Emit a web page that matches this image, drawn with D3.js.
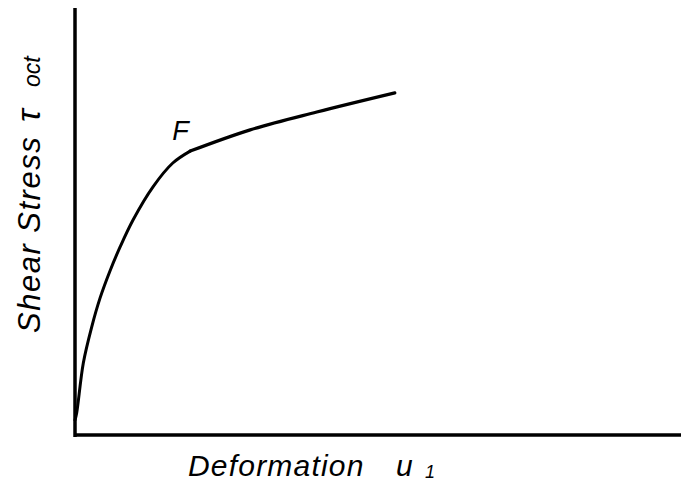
<!DOCTYPE html>
<html>
<head>
<meta charset="utf-8">
<script src="https://cdn.jsdelivr.net/npm/d3@7"></script>
<style>
  body { margin: 0; background: #fff; }
  text { font-family: "Liberation Sans", Arial, sans-serif; font-style: italic; fill: #000; }
</style>
</head>
<body>
<div id="chart"></div>
<script>
// chart size
var width = 681, height = 491;

// stress-deformation curve (arbitrary units)
// rising part, up to the yield point F
var deformElastic = [0, 0.28, 1.38, 2.78, 4.17, 5.83, 7.5, 9.67, 13.0, 16.3, 19.2];
var stressElastic = [3.5, 5.2, 16.9, 25.4, 32.2, 38.6, 44.2, 50.6, 58.4, 64.0, 66.8];
// after F
var deformPlastic = [19.2, 29.2, 40.3, 53.3];
var stressPlastic = [66.8, 71.8, 76.0, 80.5];

// yield point label
var yieldLabel = "F";
var yieldAt = [19.2, 66.8];

var xTitle = "Deformation";
var yTitle = "Shear Stress";

var svg = d3.select("#chart").append("svg")
    .attr("width", width)
    .attr("height", height);

// scales
var x = d3.scaleLinear().domain([0, 100]).range([75, 675]);
var y = d3.scaleLinear().domain([0, 100]).range([435, 10]);

// axes, plain lines with no ticks
svg.append("g")
    .attr("transform", "translate(0,435)")
    .call(d3.axisBottom(x).ticks(0).tickSizeOuter(0))
    .call(g => g.select(".domain").attr("stroke-width", 3.5).attr("d", "M75,0H681"));

svg.append("g")
    .attr("transform", "translate(75,0)")
    .call(d3.axisLeft(y).ticks(0).tickSizeOuter(0))
    .call(g => g.select(".domain").attr("stroke-width", 3.5).attr("d", "M0,437V8"));

var line = d3.line()
    .x(d => x(d[0]))
    .y(d => y(d[1]))
    .curve(d3.curveCatmullRom.alpha(0.5));

svg.append("path")
    .datum(d3.zip(deformElastic, stressElastic))
    .attr("d", line)
    .attr("fill", "none")
    .attr("stroke", "#000")
    .attr("stroke-width", 3)
    .attr("stroke-linecap", "round");

svg.append("path")
    .datum(d3.zip(deformPlastic, stressPlastic))
    .attr("d", line)
    .attr("fill", "none")
    .attr("stroke", "#000")
    .attr("stroke-width", 3.2)
    .attr("stroke-linecap", "round");

// F label
svg.append("text")
    .attr("x", x(yieldAt[0]) - 18)
    .attr("y", y(yieldAt[1]) - 11)
    .attr("font-size", 27)
    .text(yieldLabel);

// x axis title
svg.append("text")
    .attr("x", 188)
    .attr("y", 476)
    .attr("font-size", 30)
    .attr("letter-spacing", 1.2)
    .text(xTitle);
svg.append("text")
    .attr("x", 396)
    .attr("y", 476)
    .attr("font-size", 30)
    .text("u");
svg.append("text")
    .attr("x", 425)
    .attr("y", 478)
    .attr("font-size", 18)
    .text("1");

// y axis title, rotated
var yt = svg.append("g")
    .attr("transform", "translate(40,333) rotate(-90)");
yt.append("text")
    .attr("font-size", 31)
    .attr("letter-spacing", 1.5)
    .text(yTitle);
yt.append("text")
    .attr("x", 211)
    .attr("font-size", 34)
    .text("τ");
yt.append("text")
    .attr("x", 246)
    .attr("font-size", 23)
    .text("oct");
</script>
</body>
</html>
